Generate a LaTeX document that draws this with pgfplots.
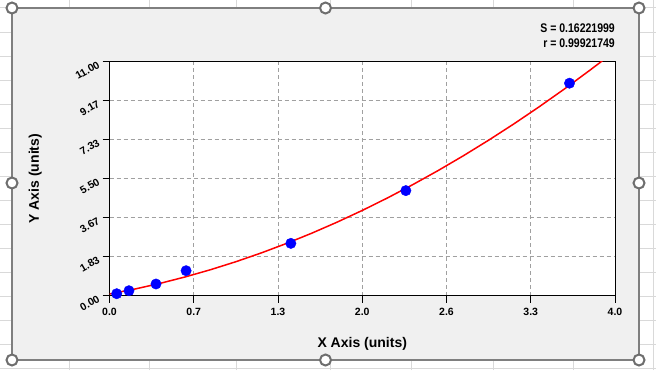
\documentclass[border=0pt]{standalone}
\usepackage{pgfplots}
\pgfplotsset{compat=1.18}
\usepackage{graphicx}
\usepackage{fontspec}
\setmainfont{Liberation Sans}
\definecolor{sheetgrid}{HTML}{D9D9D9}
\definecolor{chartbg}{HTML}{F0F0F0}
\definecolor{chartborder}{HTML}{7F7F7F}
\definecolor{handlec}{HTML}{6E6E6E}
\definecolor{gridgray}{HTML}{A0A0A0}
\newcommand{\tl}[1]{\mbox{\fontsize{10.5bp}{12bp}\selectfont\bfseries #1}}
\begin{document}
\begin{tikzpicture}[x=1bp,y=1bp]
\useasboundingbox (0,0) rectangle (656,370);
\fill[white] (0,0) rectangle (656,370);
\foreach \y in {2,26,...,362} \draw[sheetgrid, line width=1bp] (0,\y) -- (656,\y);
\foreach \x in {69,149,236,330,411,493,573,653} \draw[sheetgrid, line width=1bp] (\x,0) -- (\x,370);
\filldraw[fill=chartbg, draw=chartborder, line width=1.5bp] (12,10) rectangle (639,362);
\begin{axis}[
  at={(109.5bp,74.3bp)}, anchor=south west, scale only axis,
  width=505.5bp, height=234bp,
  xmin=0, xmax=4, ymin=0, ymax=11,
  xtick={0,0.66667,1.33333,2,2.66667,3.33333,4},
  xticklabels={\tl{0.0},\tl{0.7},\tl{1.3},\tl{2.0},\tl{2.6},\tl{3.3},\tl{4.0}},
  ytick={0,1.83333,3.66667,5.5,7.33333,9.16667,11},
  yticklabels={\tl{0.00},\tl{1.83},\tl{3.67},\tl{5.50},\tl{7.33},\tl{9.17},\tl{11.00}},
  minor tick num=3,
  tick align=outside, xtick pos=bottom, ytick pos=left,
  major tick length=7bp, minor tick length=5bp,
  tick style={black, line width=1bp},
  axis line style={black, line width=1bp},
  grid=major, major grid style={gridgray, dash pattern=on 4bp off 3bp, line width=1bp},
  axis background/.style={fill=white},
  /pgf/number format/assume math mode=true,
  tick label style={font=\bfseries\fontsize{10.5bp}{12bp}\selectfont},
  xticklabel style={yshift=-2bp},
  yticklabel style={rotate=30, anchor=east, xshift=-1bp},
  xlabel={X Axis (units)}, ylabel={Y Axis (units)},
  label style={font=\bfseries\fontsize{14bp}{16bp}\selectfont},
  xlabel style={at={(axis description cs:0.5,-0.205)}, anchor=center},
  ylabel style={at={(axis description cs:-0.147,0.5)}, anchor=center},
]
\addplot[only marks, mark=*, mark size=5.2bp, color=blue, mark options={fill=blue, draw=blue}] table {
x y
0.057 0.094
0.154 0.235
0.368 0.55
0.606 1.175
1.435 2.46
2.345 4.94
3.64 9.99
};
\addplot[red, line width=1.5bp, no markers] table {
x y
0.0 0.080
0.2 0.312
0.4 0.580
0.6 0.884
0.8 1.223
1.0 1.598
1.2 2.009
1.4 2.455
1.6 2.937
1.8 3.455
2.0 4.008
2.2 4.597
2.4 5.222
2.6 5.882
2.8 6.578
3.0 7.310
3.2 8.077
3.4 8.881
3.6 9.719
3.8 10.594
3.9 11.044
};
\end{axis}
\node[anchor=east, inner sep=0pt] at (615,342) {\fontsize{12.5bp}{14bp}\selectfont\bfseries\scalebox{0.84}[1]{S = 0.16221999}};
\node[anchor=east, inner sep=0pt] at (615,327) {\fontsize{12.5bp}{14bp}\selectfont\bfseries\scalebox{0.84}[1]{r = 0.99921749}};
\foreach \p in {(12,10),(325.5,10),(639,10),(12,187),(639,187),(12,362),(325.5,362),(639,362)}
  \filldraw[fill=white, draw=handlec, line width=2bp] \p circle (5.5);
\end{tikzpicture}
\end{document}
